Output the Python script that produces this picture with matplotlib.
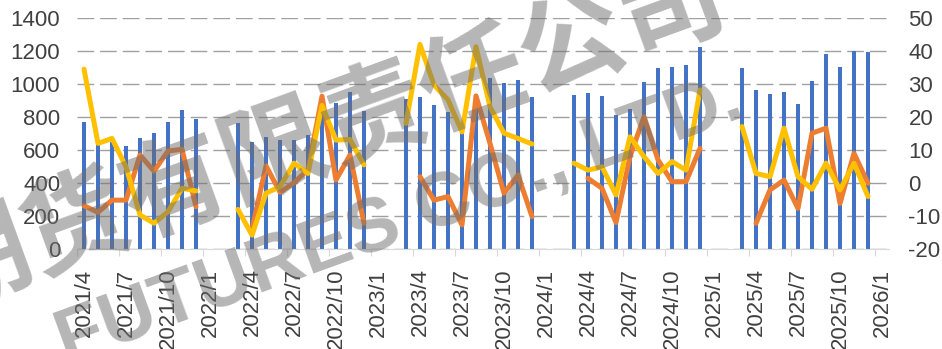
import numpy as np
import matplotlib.pyplot as plt

plt.rcParams['font.family'] = ['Liberation Sans', 'DejaVu Sans']
plt.rcParams['axes.unicode_minus'] = False

nan = np.nan

# monthly categories 2021/4 .. 2026/1
months = [f'{y}/{m}' for y in range(2021, 2027) for m in range(1, 13)]
months = months[3:61]

# bars (left axis)
bars_2021 = [771, 640, 650, 624, 675, 701, 768, 844, 786]
bars_2022 = [nan, nan, 762, 650, 681, 663, 659, 691, 820, 887, 953, 836]
bars_2023 = [nan, nan, 909, 921, 871, 828, 720, 900, 1034, 1004, 1024, 923]
bars_2024 = [nan, nan, 933, 944, 925, 814, 848, 1012, 1097, 1103, 1113, 1224]
bars_2025 = [nan, nan, 1099, 966, 941, 952, 877, 1016, 1180, 1103, 1202, 1196]
bars_2026 = [nan]

# orange line (right axis)
orange_2021 = [-6.9, -8.9, -5.2, -5.2, 8.5, 3.6, 9.7, 10.2, -7.2]
orange_2022 = [nan, nan, nan, -14.0, 5.2, -2.8, 0.1, 4.0, 26.3, 0.9, 8.5, -12.2]
orange_2023 = [nan, nan, nan, 1.9, -5.2, -4.1, -12.7, 26.4, 12.0, -3.1, 2.4, -10.2]
orange_2024 = [nan, nan, nan, 1.4, -1.6, -12.0, 8.0, 20.1, 7.0, 0.4, 0.4, 10.5]
orange_2025 = [nan, nan, nan, -12.2, -2.1, 0.9, -7.7, 15.1, 16.6, -6.2, 9.0, -0.1]
orange_2026 = [nan]

# yellow line (right axis)
yellow_2021 = [34.5, 12.0, 13.5, 4.9, -9.7, -12.2, -8.7, -1.6, -2.4]
yellow_2022 = [nan, nan, -8.0, -15.8, -3.1, -1.1, 6.0, 2.9, 23.5, 13.0, 13.2, 5.5]
yellow_2023 = [nan, nan, 18.1, 42.0, 29.7, 25.2, 15.5, 41.3, 23.1, 15.1, 13.5, 11.8]
yellow_2024 = [nan, nan, 6.0, 3.9, 4.9, -3.6, 14.0, 8.0, 2.9, 6.5, 3.9, 28.2]
yellow_2025 = [nan, nan, 17.1, 2.9, 1.9, 16.6, 1.9, -1.9, 6.0, -2.1, 6.0, -4.1]
yellow_2026 = [nan]

bars = np.array(bars_2021 + bars_2022 + bars_2023 + bars_2024 + bars_2025 + bars_2026, dtype=float)
orange = np.array(orange_2021 + orange_2022 + orange_2023 + orange_2024 + orange_2025 + orange_2026)
yellow = np.array(yellow_2021 + yellow_2022 + yellow_2023 + yellow_2024 + yellow_2025 + yellow_2026)

x = np.arange(len(months))
ok = ~np.isnan(bars)

W, H = 942, 349
fig = plt.figure(figsize=(W / 100, H / 100), dpi=100)
ax = fig.add_axes([77 / W, 1 - 249 / H, 812 / W, 231 / H])
ax2 = ax.twinx()

ax.bar(x[ok], bars[ok], width=0.32, color='#4472C4', zorder=2)
ax.set_xlim(-0.5, len(months) - 0.5)
ax.set_ylim(0, 1400)
ax.set_yticks(range(0, 1401, 200))
ax.yaxis.grid(True, color='#a0a0a0', lw=1.0, linestyle=(0, (12, 4.3)))
ax.set_axisbelow(True)

ax2.plot(x, orange, color='#ED7D31', lw=3.6, solid_joinstyle='round', solid_capstyle='round')
ax2.plot(x, yellow, color='#FFC000', lw=3.6, solid_joinstyle='round', solid_capstyle='round')
ax2.set_ylim(-20, 50)
ax2.set_yticks(range(-20, 51, 10))

for s in ['top', 'left', 'right']:
    ax.spines[s].set_visible(False)
    ax2.spines[s].set_visible(False)
ax.spines['bottom'].set_color('#d9d9d9')
ax2.spines['bottom'].set_visible(False)

tc = '#404040'
ax.tick_params(axis='y', length=0, pad=12, labelsize=16, labelcolor=tc)
ax2.tick_params(axis='y', length=0, pad=14, labelsize=16, labelcolor=tc)

ax.set_xticks(np.arange(-0.5, len(months) - 1, 3))
ax.set_xticklabels([])
ax.set_xticks(x[::3], labels=months[::3], minor=True)
ax.tick_params(axis='x', which='major', length=5, color='#d9d9d9')
ax.tick_params(axis='x', which='minor', length=0, pad=14, labelsize=16,
               labelcolor=tc, labelrotation=90)

# watermark
fig.text(325 / W, 1 - 136 / H, '期货有限责任公司', rotation=20, rotation_mode='anchor',
         ha='center', va='center', fontsize=76, fontweight='bold', color='#6e6e6e',
         alpha=0.5, family=['Noto Sans CJK SC'])
fig.text(400 / W, 1 - 222 / H, 'FUTURES CO., LTD.', rotation=20, rotation_mode='anchor',
         ha='center', va='center', fontsize=55, fontweight='bold', color='#6e6e6e',
         alpha=0.5)

fig.savefig('out.png', dpi=100)
